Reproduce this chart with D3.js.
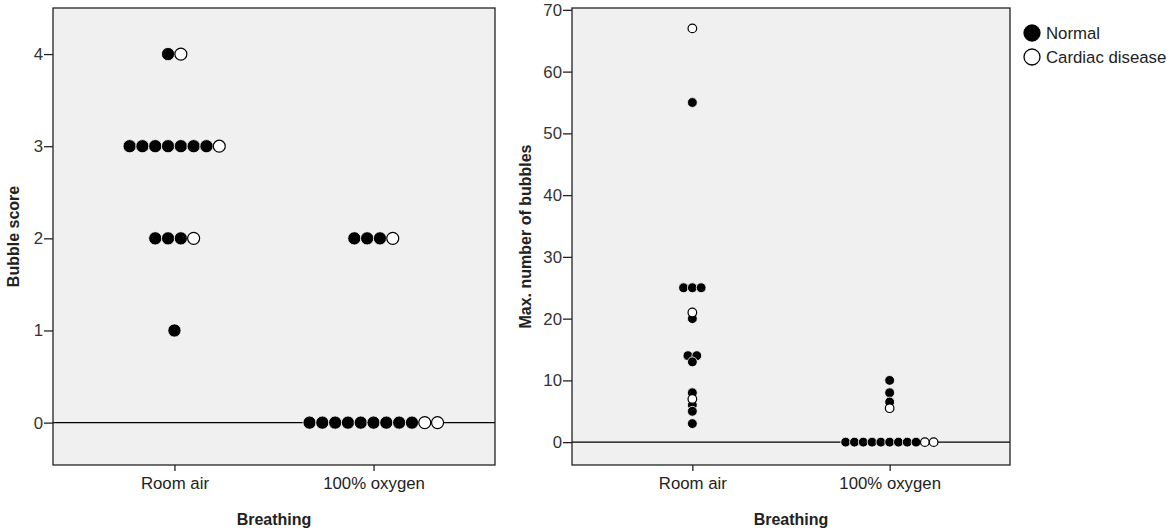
<!DOCTYPE html>
<html>
<head>
<meta charset="utf-8">
<script src="https://cdn.jsdelivr.net/npm/d3@7"></script>
<style>
  body { margin: 0; background: #fff; }
  text { font-family: "Liberation Sans", Arial, sans-serif; }
</style>
</head>
<body>
<script>
const groups = ["Room air", "100% oxygen"];

// Bubble score (left panel)
const scoreNormalRoom = [4, 3, 3, 3, 3, 3, 3, 3, 2, 2, 2, 1];
const scoreCardiacRoom = [4, 3, 2];
const scoreNormalOxy = [2, 2, 2, 0, 0, 0, 0, 0, 0, 0, 0, 0];
const scoreCardiacOxy = [2, 0, 0];
const scoreTicks = [0, 1, 2, 3, 4];

// Max. number of bubbles (right panel)
const bubblesNormalRoom = [55, 25, 25, 25, 20, 14, 14, 13, 8, 6, 5, 3];
const bubblesCardiacRoom = [67, 21, 7];
const bubblesNormalOxy = [10, 8, 6.5, 0, 0, 0, 0, 0, 0, 0, 0, 0];
const bubblesCardiacOxy = [5.5, 0, 0];
const bubblesTicks = [0, 10, 20, 30, 40, 50, 60, 70];

const legendLabels = ["Normal", "Cardiac disease"];

const width = 1170;
const height = 532;
const fontSize = "16.8px";
const titleSize = "16px";

const svg = d3.select("body")
    .append("svg")
    .attr("width", width)
    .attr("height", height);

function drawPanel(opt) {
    const g = svg.append("g");

    const x = d3.scalePoint()
        .domain(groups)
        .range([opt.left, opt.right])
        .padding(0.61);

    const y = d3.scaleLinear()
        .domain(opt.domain)
        .range([opt.bottom, opt.top]);

    // plot background
    g.append("rect")
        .attr("x", opt.left)
        .attr("y", opt.top)
        .attr("width", opt.right - opt.left)
        .attr("height", opt.bottom - opt.top)
        .attr("fill", "#f0f0f0");

    // zero line
    g.append("line")
        .attr("x1", opt.left)
        .attr("x2", opt.right)
        .attr("y1", y(0))
        .attr("y2", y(0))
        .attr("stroke", "#000")
        .attr("stroke-width", 1.4);

    // dots: stack each value in a row, normal first then cardiac
    const series = [
        [opt.normal[0], opt.cardiac[0], groups[0]],
        [opt.normal[1], opt.cardiac[1], groups[1]]
    ];
    const dots = [];
    series.forEach(([norm, card, grp]) => {
        const pts = norm.map(v => ({ v, kind: "normal" }))
            .concat(card.map(v => ({ v, kind: "cardiac" })));
        const rows = d3.group(pts, d => d.v);
        rows.forEach(row => {
            row.forEach((d, i) => {
                dots.push({
                    kind: d.kind,
                    cx: x(grp) + (i - (row.length - 1) / 2) * opt.spacing,
                    cy: y(d.v)
                });
            });
        });
    });

    g.selectAll("circle.dot")
        .data(dots)
        .enter().append("circle")
        .attr("class", "dot")
        .attr("cx", d => d.cx)
        .attr("cy", d => d.cy)
        .attr("r", d => d.kind === "normal" ? opt.r : opt.r - 0.6)
        .attr("fill", d => d.kind === "normal" ? "#000" : "#fff")
        .attr("stroke", d => d.kind === "normal" ? "#fff" : "#000")
        .attr("stroke-width", d => d.kind === "normal" ? 0.8 : 1.2);

    // frame
    g.append("rect")
        .attr("x", opt.left)
        .attr("y", opt.top)
        .attr("width", opt.right - opt.left)
        .attr("height", opt.bottom - opt.top)
        .attr("fill", "none")
        .attr("stroke", "#222")
        .attr("stroke-width", 1.3);

    // y axis
    const yAxis = g.append("g")
        .attr("transform", `translate(${opt.left},0)`)
        .call(d3.axisLeft(y).tickValues(opt.ticks).tickFormat(d3.format("d")).tickSize(9).tickPadding(1));
    yAxis.select(".domain").remove();
    yAxis.selectAll("line").attr("stroke", "#222").attr("stroke-width", 1.3);
    yAxis.selectAll("text")
        .attr("fill", "#333")
        .style("font-size", fontSize);

    // x axis
    const xAxis = g.append("g")
        .attr("transform", `translate(0,${opt.bottom})`)
        .call(d3.axisBottom(x).tickSize(6).tickPadding(6));
    xAxis.select(".domain").remove();
    xAxis.selectAll("line").attr("stroke", "#222").attr("stroke-width", 1.3);
    xAxis.selectAll("text")
        .attr("fill", "#222")
        .style("font-size", fontSize);

    // axis titles
    g.append("text")
        .attr("x", (opt.left + opt.right) / 2)
        .attr("y", 525)
        .attr("text-anchor", "middle")
        .style("font-size", titleSize)
        .style("font-weight", "bold")
        .attr("fill", "#222")
        .text("Breathing");

    g.append("text")
        .attr("transform", `translate(${opt.titleX},${(opt.top + opt.bottom) / 2}) rotate(-90)`)
        .attr("text-anchor", "middle")
        .style("font-size", titleSize)
        .style("font-weight", "bold")
        .attr("fill", "#222")
        .text(opt.title);
}

drawPanel({
    left: 53, right: 495, top: 8, bottom: 465,
    domain: [-0.46, 4.5],
    ticks: scoreTicks,
    normal: [scoreNormalRoom, scoreNormalOxy],
    cardiac: [scoreCardiacRoom, scoreCardiacOxy],
    r: 6.6, spacing: 12.8,
    title: "Bubble score", titleX: 19
});

drawPanel({
    left: 572, right: 1010, top: 8, bottom: 465,
    domain: [-3.7, 70.3],
    ticks: bubblesTicks,
    normal: [bubblesNormalRoom, bubblesNormalOxy],
    cardiac: [bubblesCardiacRoom, bubblesCardiacOxy],
    r: 4.9, spacing: 8.8,
    title: "Max. number of bubbles", titleX: 531
});

// legend
const legend = svg.selectAll(".legend")
    .data(legendLabels)
    .enter().append("g")
    .attr("class", "legend")
    .attr("transform", (d, i) => `translate(1032,${33 + i * 24})`);

legend.append("circle")
    .attr("r", 8)
    .attr("fill", (d, i) => i === 0 ? "#000" : "#fff")
    .attr("stroke", "#000")
    .attr("stroke-width", 1.3);

legend.append("text")
    .attr("x", 14)
    .attr("dy", "0.35em")
    .style("font-size", fontSize)
    .attr("fill", "#222")
    .text(d => d);
</script>
</body>
</html>
